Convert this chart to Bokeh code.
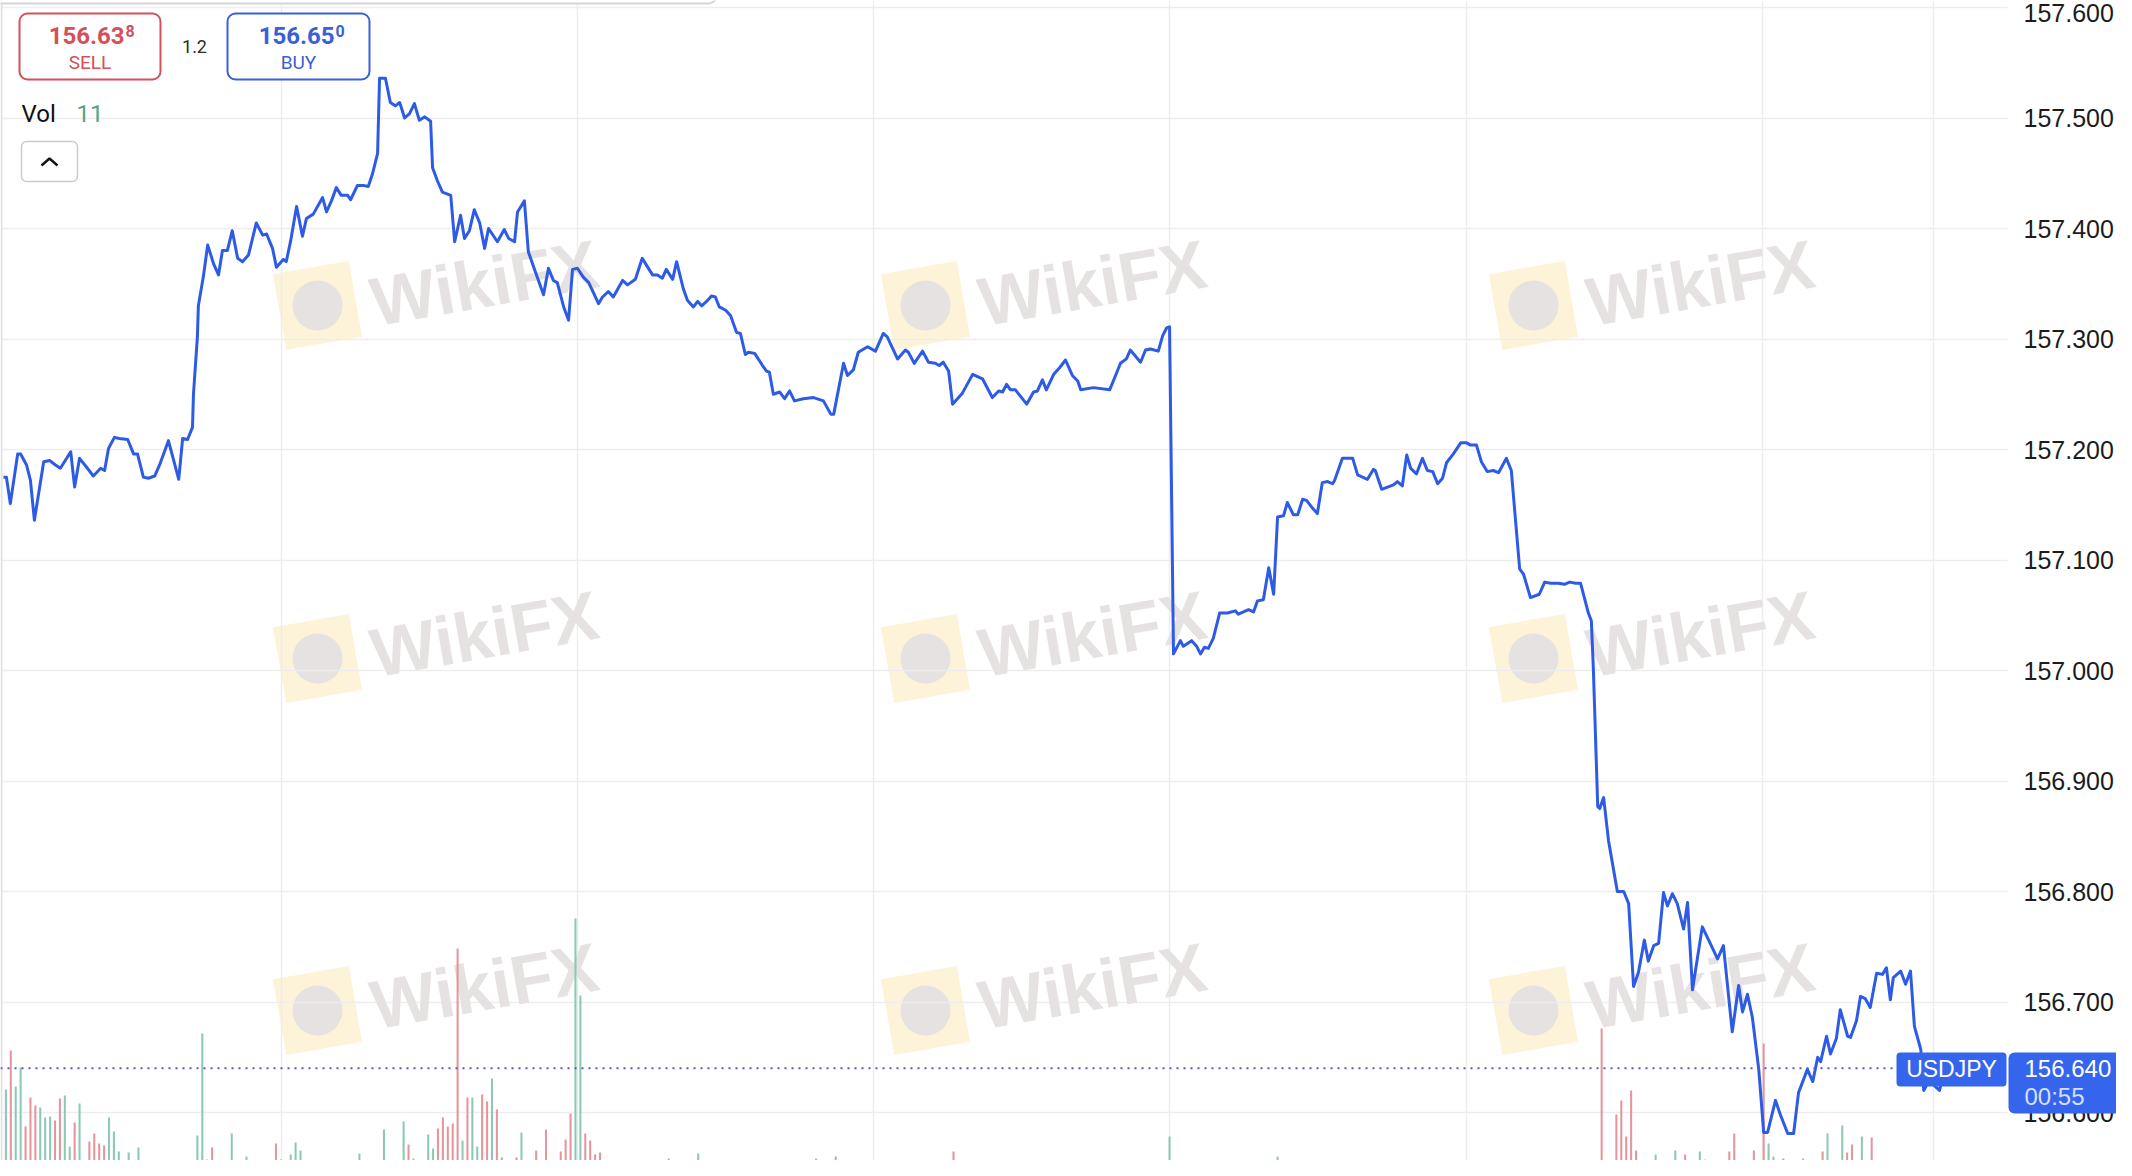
from bokeh.plotting import figure
from bokeh.models import Range1d, FixedTicker, Span, Label, BoxAnnotation
from bokeh.core.properties import value
from bokeh.embed import file_html
from bokeh.resources import INLINE

# ---------------- data (minutes from start, USDJPY price) ----------------
line_t = [-0.5, 0.1, 0.9, 2.4, 3.0, 4.2, 5.0, 5.8, 7.7, 8.9, 10.1, 11.1, 13.2, 14.0, 15.0, 16.6, 17.8, 19.3, 20.1,
          20.9, 22.1, 23.1, 24.8, 26.0, 26.8, 28.0, 29.0, 30.3, 31.3, 33.1, 35.2, 36.0, 37.0, 38.0, 38.2, 39.0, 39.2,
          40.2, 41.1, 42.3, 43.3, 44.1, 45.1, 46.1, 47.2, 48.2, 49.4, 51.0, 52.3, 53.1, 54.3, 55.1, 56.5, 57.1, 58.0,
          59.2, 60.4, 61.2, 62.6, 64.5, 65.3, 66.3, 67.3, 68.3, 69.6, 70.2, 71.6, 72.8, 73.8, 74.7, 75.7, 76.1, 77.3,
          78.3, 79.3, 80.2, 81.2, 82.2, 83.2, 84.2, 85.3, 86.5, 86.9, 87.9,
          88.9, 90.6, 91.4, 92.6, 93.4, 94.4, 95.4, 96.5, 97.5, 98.3, 100.1, 101.5, 102.4, 103.6, 104.2, 105.6, 106.4,
          107.9, 109.5, 110.5, 111.5, 112.3, 113.6, 114.6, 115.4, 116.4, 117.6, 118.7, 120.7, 121.5, 122.7, 123.7,
          125.6, 126.6, 128.2, 129.6, 131.7, 132.7, 133.7, 134.5, 135.8, 136.6, 138.0, 138.8, 140.0, 140.9, 141.7,
          142.7, 143.7, 144.5, 145.3, 146.6, 147.6, 148.8, 149.6, 150.6, 151.2, 152.5, 154.1, 154.9, 155.5, 156.3,
          157.6, 158.6, 159.6, 160.6, 162.4, 164.5, 166.5, 168.0, 168.6, 170.6, 171.4, 172.6, 173.6, 175.5, 177.1,
          178.7, 179.5, 181.6, 183.2, 183.8, 185.0, 186.7, 187.9, 189.3, 190.1, 190.9, 192.0, 192.8, 194.8, 196.9,
          198.9, 200.9, 202.2, 203.0, 203.8, 204.6, 205.6, 207.9, 209.3, 210.1, 211.1, 211.9, 213.4, 214.6, 215.8,
          217.2, 218.3, 218.9, 221.5, 224.8, 226.0, 227.0, 228.2, 229.0, 231.1, 232.1, 233.1, 234.7, 235.6, 236.4,
          237.0, 237.8, 239.2, 239.8, 241.5, 242.5, 243.3, 244.1, 244.9, 245.9, 247.2, 248.8, 250.4, 251.0, 253.1,
          254.1, 254.9, 256.1, 257.2, 258.2, 259.0, 260.2, 261.0, 262.2, 263.1, 264.1, 264.9, 266.1, 267.1, 268.1,
          269.2, 270.2, 270.6, 272.2, 274.3, 275.3, 277.3, 278.5, 278.9, 280.2, 281.4, 282.6, 283.4, 284.4, 285.3,
          286.1, 287.3, 288.5, 289.5, 290.6, 291.6, 292.6, 293.4, 294.8, 296.3, 297.5, 298.3, 299.5, 300.5, 301.7,
          302.9, 304.0, 305.6, 306.6, 308.3, 309.1, 310.5, 312.3, 313.4, 314.6, 316.2, 317.4, 318.5, 319.7, 320.7,
          322.3, 322.9, 323.3, 324.2, 324.6, 325.4, 326.4, 328.2, 329.5, 330.5, 331.5, 332.5, 333.7, 334.5, 335.6,
          336.6, 337.6, 338.4, 339.4, 340.4, 341.7, 342.5, 343.5, 345.5, 346.8, 348.6, 349.8, 351.6, 352.9, 353.7,
          354.7, 355.7, 357.0, 358.0, 358.8, 360.4, 361.4, 362.9, 364.1, 365.1, 366.9, 368.0, 369.0, 369.6, 370.8,
          371.6, 372.8, 373.6, 375.1, 375.7, 376.9, 377.7, 378.7, 379.7, 381.0, 382.2, 383.0, 383.8, 384.4, 385.9,
          386.9, 387.9, 388.7, 390.0, 390.6, 391.6, 392.6, 393.8, 395.0]
line_p = [157.175, 157.175, 157.151, 157.196, 157.196, 157.186, 157.172, 157.136, 157.189, 157.190, 157.186, 157.183,
          157.198, 157.166, 157.192, 157.183, 157.176, 157.183, 157.181, 157.201, 157.211, 157.210, 157.209, 157.196,
          157.196, 157.175, 157.174, 157.176, 157.186, 157.208, 157.173, 157.210, 157.209, 157.220, 157.250, 157.302,
          157.330, 157.356, 157.385, 157.368, 157.358, 157.380, 157.380, 157.398, 157.373, 157.370, 157.376, 157.405,
          157.394, 157.395, 157.382, 157.365, 157.372, 157.370, 157.389, 157.420, 157.393, 157.409, 157.413, 157.428,
          157.415, 157.425, 157.437, 157.430, 157.430, 157.426, 157.439, 157.439, 157.438, 157.450, 157.468, 157.536,
          157.536, 157.514, 157.511, 157.514, 157.500, 157.504, 157.513, 157.498, 157.501, 157.497, 157.455, 157.443,
          157.433, 157.430, 157.388, 157.412, 157.391, 157.398, 157.417, 157.405, 157.382, 157.400, 157.388, 157.399,
          157.391, 157.388, 157.415, 157.425, 157.379, 157.360, 157.340, 157.364, 157.353, 157.351, 157.329, 157.317,
          157.363, 157.364, 157.356, 157.351, 157.332, 157.338, 157.343, 157.338, 157.353, 157.349, 157.354, 157.373,
          157.358, 157.358, 157.355, 157.363, 157.354, 157.370, 157.345, 157.335, 157.329, 157.334, 157.330, 157.334,
          157.339, 157.338, 157.329, 157.326, 157.321, 157.306, 157.305, 157.286, 157.288, 157.287, 157.276, 157.271,
          157.270, 157.250, 157.252, 157.246, 157.253, 157.244, 157.246, 157.247, 157.244, 157.232, 157.232, 157.278,
          157.267, 157.272, 157.288, 157.293, 157.289, 157.305, 157.302, 157.282, 157.290, 157.288, 157.278, 157.289,
          157.279, 157.278, 157.276, 157.279, 157.271, 157.241, 157.251, 157.268, 157.264, 157.247, 157.253, 157.252,
          157.259, 157.254, 157.254, 157.241, 157.252, 157.253, 157.263, 157.254, 157.268, 157.274, 157.281, 157.267,
          157.262, 157.254, 157.256, 157.254, 157.267, 157.278, 157.282, 157.290, 157.279, 157.290, 157.291, 157.289,
          157.303, 157.310, 157.311, 157.015, 157.027, 157.022, 157.027, 157.022, 157.015, 157.021, 157.020, 157.029,
          157.052, 157.052, 157.054, 157.051, 157.055, 157.053, 157.063, 157.064, 157.093, 157.069, 157.139, 157.140,
          157.152, 157.141, 157.141, 157.155, 157.154, 157.147, 157.142, 157.170, 157.171, 157.169, 157.172, 157.192,
          157.192, 157.177, 157.173, 157.182, 157.181, 157.164, 157.166, 157.168, 157.171, 157.167, 157.195, 157.183,
          157.178, 157.192, 157.181, 157.180, 157.169, 157.174, 157.188, 157.196, 157.206, 157.206, 157.204, 157.204,
          157.189, 157.180, 157.181, 157.179, 157.192, 157.181, 157.092, 157.087, 157.066, 157.069, 157.080, 157.079,
          157.079, 157.078, 157.080, 157.079, 157.079, 157.052, 157.045, 157.003, 156.877, 156.875, 156.885, 156.846,
          156.800, 156.800, 156.789, 156.714, 156.727, 156.756, 156.737, 156.751, 156.753, 156.799, 156.787, 156.798,
          156.789, 156.766, 156.790, 156.711, 156.768, 156.756, 156.739, 156.751, 156.673, 156.715, 156.691, 156.707,
          156.686, 156.639, 156.582, 156.582, 156.611, 156.598, 156.581, 156.581, 156.618, 156.639, 156.628, 156.650,
          156.646, 156.669, 156.653, 156.667, 156.693, 156.669, 156.668, 156.683, 156.705, 156.703, 156.695, 156.726,
          156.725, 156.731, 156.702, 156.722, 156.728, 156.716, 156.728, 156.678, 156.657, 156.620, 156.628, 156.625,
          156.620, 156.640]

vol_t = [0, 1, 2, 3, 4, 5, 6, 7, 8, 9, 10, 11, 12, 13, 14, 15, 16, 17, 18, 19, 20, 21, 22, 23, 24, 25, 26, 27, 30, 31,
         38, 39, 40, 41, 42, 46, 47, 48, 49, 50, 51, 52, 53, 54, 55, 56, 57, 58, 59, 60, 64, 66, 67, 68, 71, 72, 73, 75,
         76, 77, 78, 81, 82, 83, 85, 86, 87, 88, 89, 90, 91, 92, 93, 94, 95, 96, 97, 98, 99, 100, 101, 102, 103, 104,
         105, 107, 108, 109, 110, 112, 113, 114, 115, 116, 117, 118, 119, 120, 121, 128, 134, 135, 137, 141,
         163, 165, 167, 169, 171, 193, 196, 199, 237, 259,
         325, 328, 329, 330, 331, 332, 336, 338, 340, 342, 345, 346, 349, 351, 352, 353, 354, 355, 356, 357, 358, 359,
         360, 362, 366, 368, 370, 371, 374, 375, 376, 377, 378, 380, 382, 386, 390, 391, 394, 395, 396]
vol_v = [87, 126, 90, 109, 50, 79, 71, 69, 59, 60, 56, 78, 81, 30, 54, 73, 10, 35, 43, 33, 31, 59, 45, 25, 13, 24, 4, 29,
         13, 9, 6, 41, 143, 17, 29, 43, 2, 15, 20, 4, 2, 2, 2, 16, 33, 17, 15, 22, 34, 26, 2, 16, 11, 5, 8, 23, 16, 2,
         2, 47, 6, 55, 32, 18, 7, 42, 28, 48, 59, 50, 53, 228, 36, 79, 79, 30, 82, 75, 98, 67, 19, 9, 2, 19, 44, 14,
         26, 4, 47, 7, 25, 37, 63, 258, 181, 43, 36, 22, 24, 4, 14, 18, 15, 23,
         12, 18, 10, 20, 14, 25, 10, 8, 40, 20,
         148, 62, 76, 40, 86, 26, 22, 10, 26, 22, 25, 17, 9, 25, 43, 9, 11, 15, 26, 4, 133, 33, 20, 18, 18, 4, 25, 43,
         51, 24, 32, 8, 40, 39, 12, 2, 12, 13, 3, 9, 11]
vol_up = [1, 0, 1, 1, 0, 0, 0, 1, 1, 1, 0, 0, 1, 1, 0, 1, 0, 0, 0, 0, 0, 1, 1, 1, 0, 1, 0, 1, 1, 1, 1, 1, 1, 1, 0, 1, 1,
          0, 1, 1, 1, 0, 1, 0, 0, 0, 0, 1, 1, 1, 1, 0, 1, 1, 0, 1, 1, 1, 1, 1, 1, 1, 0, 1, 0, 1, 1, 0, 0, 0, 0, 0, 1, 0,
          1, 1, 0, 0, 1, 0, 0, 1, 1, 0, 1, 0, 0, 0, 0, 0, 0, 0, 0, 1, 1, 0, 0, 0, 0, 0, 0, 1, 1, 1,
          1, 1, 0, 0, 1, 0, 1, 1, 1, 1,
          0, 0, 0, 0, 0, 0, 1, 1, 1, 0, 1, 1, 1, 0, 0, 1, 1, 1, 0, 0, 0, 1, 1, 0, 1, 0, 0, 1, 1, 0, 0, 1, 1, 0, 0, 1, 0,
          0, 1, 1, 0]

price_ticks = [156.6, 156.7, 156.8, 156.9, 157.0, 157.1, 157.2, 157.3, 157.4, 157.5, 157.6]
price_tick_labels = ["156.600", "156.700", "156.800", "156.900", "157.000", "157.100", "157.200", "157.300",
                     "157.400", "157.500", "157.600"]
hour_ticks = [56.1, 116.4, 176.7, 237.0, 297.5, 357.8, 392.6]
last_price = 156.640
last_price_label = "156.640"
sell_main, sell_pip = "156.63", "8"
buy_main, buy_pip = "156.65", "0"
spread = "1.2"
symbol = "USDJPY"
countdown = "00:55"
last_volume = "11"

# ---------------- layout helpers (screen pixel -> data units, for decorations) ----------------
W, H = 2116, 1160
X0, XS = 5.4, 4.91
Y0, YS = 7.0, 1105.0
PLOT_RIGHT = 2007   # price-scale strip starts here


def tx(px):
    return (px - X0) / XS


def ty(px):
    return 157.6 - (px - Y0) / YS


RED = "#d4505a"
BLUE = "#3a5fd8"
LINE = "#2d5be6"
TAG = "#3565ec"
UI_FONT = "Roboto"
AX_FONT = "Liberation Sans"

p = figure(width=W, height=H, output_backend="svg", toolbar_location=None,
           x_range=Range1d(tx(0), tx(W)), y_range=Range1d(ty(H), ty(0)),
           x_axis_location=None, y_axis_location=None, min_border=0,
           outline_line_color=None, background_fill_color="white", border_fill_color="white")
p.extra_y_ranges = {"vol": Range1d(16, 1176)}

p.xgrid.ticker = FixedTicker(ticks=hour_ticks)
p.ygrid.ticker = FixedTicker(ticks=price_ticks)
for g in (p.xgrid, p.ygrid):
    g.grid_line_color = "#ededed"
    g.grid_line_width = 1.5

# price-scale strip on the right (white, no grid)
p.add_layout(BoxAnnotation(left=tx(PLOT_RIGHT), right=tx(W + 50), top=ty(-50), bottom=ty(H + 50),
                           fill_color="white", fill_alpha=1, line_color=None, level="underlay"))

# left border and top panel edge
p.add_layout(Span(location=tx(1), dimension="height", line_color="#e2e2e2", line_width=2))
p.add_layout(BoxAnnotation(left=tx(-10), right=tx(716), top=ty(-30), bottom=ty(3), fill_color="white",
                           fill_alpha=1, line_color="#d6d6d6", line_alpha=1, line_width=2, border_radius=8))

# ---------------- watermark ----------------
logo_cx = [317, 925, 1533]
logo_cy = [305, 658, 1010]
wm_cx = [484, 1092, 1700]
wm_cy = [283, 634, 986]
lx = [tx(x) for y in logo_cy for x in logo_cx]
ly = [ty(y) for y in logo_cy for x in logo_cx]
p.rect(lx, ly, width=77, height=77, width_units="screen", height_units="screen", angle=10, angle_units="deg",
       fill_color="#fcf3d8", line_color=None, level="underlay")
p.scatter(lx, ly, size=50, marker="circle", fill_color="#e5e2e1", line_color=None, level="underlay")
for y in wm_cy:
    for x in wm_cx:
        p.add_layout(Label(x=tx(x), y=ty(y), text="WikiFX", angle=10, angle_units="deg",
                           text_align="center", text_baseline="middle", text_font=AX_FONT,
                           text_font_style="bold", text_font_size="69px", text_color="#e6e2e2",
                           level="underlay"))

# ---------------- price scale labels ----------------
# the topmost label is nudged down a few pixels so that it stays fully inside the canvas
tick_dy = [0, 0, 0, 0, 0, 0, 0, 0, 0, 0, 5]
p.text(x=[tx(2023)] * len(price_ticks), y=price_ticks, text=price_tick_labels, y_offset=tick_dy,
       text_font=value(AX_FONT), text_font_size="25px", text_color="#1c1c1c",
       text_align="left", text_baseline="middle")

# ---------------- volume + price ----------------
vcol = ["#86c6b1" if u else "#e48f97" for u in vol_up]
p.vbar(x=vol_t, top=vol_v, bottom=0, width=0.42, fill_color=vcol, line_color=None, fill_alpha=0.95,
       y_range_name="vol")
p.line(line_t, line_p, line_width=3, line_color=LINE, line_join="round")

p.add_layout(Span(location=last_price, dimension="width", line_color="#5757c9", line_dash="2 5", line_width=2))

# ---------------- quote boxes ----------------
p.add_layout(BoxAnnotation(left=tx(19), right=tx(160), top=ty(13), bottom=ty(79), fill_color="white", fill_alpha=1,
                           line_color=RED, line_alpha=1, line_width=2, border_radius=8))
p.add_layout(BoxAnnotation(left=tx(227), right=tx(369), top=ty(13), bottom=ty(79), fill_color="white", fill_alpha=1,
                           line_color=BLUE, line_alpha=1, line_width=2, border_radius=8))


def lab(x, y, text, size, color, align="left", bold=False, font=UI_FONT):
    p.add_layout(Label(x=tx(x), y=ty(y), text=text, text_align=align, text_baseline="middle",
                       text_font=font, text_font_size=size, text_color=color,
                       text_font_style="bold" if bold else "normal"))


lab(124, 35, sell_main, "24px", RED, align="right", bold=True)
lab(125, 30, sell_pip, "16px", RED, bold=True)
lab(89.5, 62, "SELL", "19px", RED, align="center")
lab(194, 46, spread, "18px", "#2a2a2a", align="center")
lab(334, 35, buy_main, "24px", BLUE, align="right", bold=True)
lab(335, 30, buy_pip, "16px", BLUE, bold=True)
lab(298, 62, "BUY", "19px", BLUE, align="center")
lab(21, 113, "Vol", "24px", "#111111")
lab(76, 113, last_volume, "24px", "#55a488")

p.add_layout(BoxAnnotation(left=tx(21), right=tx(77), top=ty(141), bottom=ty(181), fill_alpha=0,
                           line_color="#cccccc", line_alpha=1, line_width=1.5, border_radius=5))
p.line([tx(41), tx(49), tx(57)], [ty(165), ty(158), ty(165)], line_width=2.5, line_color="#151515")

# ---------------- last price tags ----------------
p.add_layout(BoxAnnotation(left=tx(1896), right=tx(2006), top=ty(1052), bottom=ty(1086), fill_color=TAG,
                           fill_alpha=1, line_color=None, border_radius=4))
lab(1951, 1068, symbol, "23px", "white", align="center", font=AX_FONT)
p.add_layout(BoxAnnotation(left=tx(2008), right=tx(2150), top=ty(1052), bottom=ty(1113), fill_color=TAG,
                           fill_alpha=1, line_color=None, border_radius=6))
lab(2024, 1068, last_price_label, "24px", "white", font=AX_FONT)
lab(2024, 1096, countdown, "24px", "#d5defc", font=AX_FONT)

open("out.html", "w").write(file_html(p, INLINE))
